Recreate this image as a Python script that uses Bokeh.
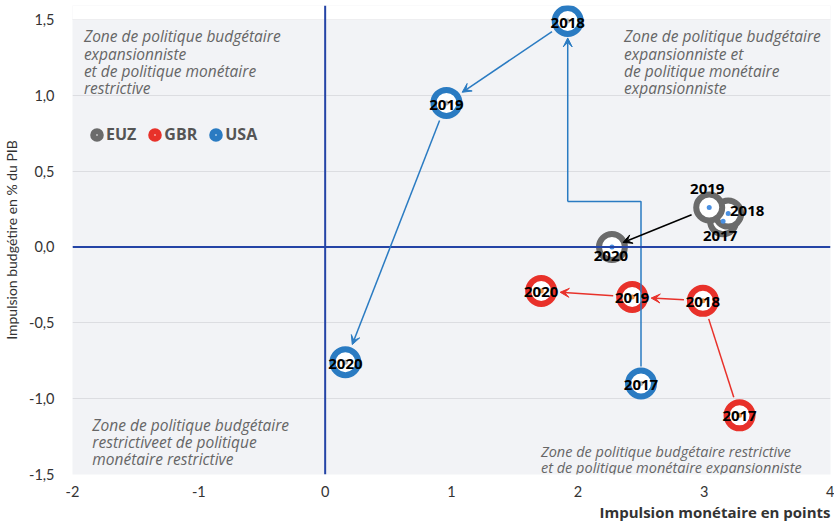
import math
from bokeh.plotting import figure
from bokeh.models import (Range1d, FixedTicker, CustomJSTickFormatter, Span, Label, Title,
                          Arrow, VeeHead, ColumnDataSource, Legend, LegendItem, BoxAnnotation)
from bokeh.embed import file_html
from bokeh.resources import INLINE
from bokeh.core.properties import value

# ---------------- data ----------------
years = ["2017", "2018", "2019", "2020"]
usa_x = [2.50, 1.92, 0.96, 0.16]
usa_y = [-0.90, 1.49, 0.95, -0.76]
gbr_x = [3.28, 2.99, 2.43, 1.71]
gbr_y = [-1.11, -0.355, -0.33, -0.29]
euz_x = [3.15, 3.19, 3.04, 2.27]
euz_y = [0.17, 0.22, 0.26, 0.00]
usa_elbow_y = 0.30          # level of the step in the USA 2017 -> 2018 path

x_ticks = [-2, -1, 0, 1, 2, 3, 4]
y_ticks = [-1.5, -1.0, -0.5, 0.0, 0.5, 1.0, 1.5]

zone_tl = ["Zone de politique budgétaire", "expansionniste",
           "et de politique monétaire", "restrictive"]
zone_tr = ["Zone de politique budgétaire", "expansionniste et",
           "de politique monétaire", "expansionniste"]
zone_bl = ["Zone de politique budgétaire", "restrictiveet de politique",
           "monétaire restrictive"]
zone_br = ["Zone de politique budgétaire restrictive",
           "et de politique monétaire expansionniste"]

x_title = "Impulsion monétaire en points"
y_title = "Impulsion budgétire en % du PIB"

# ---------------- styles ----------------
C_USA, C_GBR, C_EUZ = "#2a7bc2", "#e8312a", "#6b6b6b"
D_USA, D_GBR, D_EUZ = "#b5b5b5", "#f28f43", "#4a90e2"
AXIS0 = "#2444a6"

W, H = 834, 521
EXTRA_TOP = 14                      # px of headroom so the top ring is not clipped
BL, BR, BT, BB = 72, 4, 19 - EXTRA_TOP, 46
X0, X1, Y0, Y1 = -2, 4, -1.5, 1.5
PX_X = (W - BL - BR) / (X1 - X0)
PX_Y = (H - 19 - BB) / (Y1 - Y0)
Y1_EXT = Y1 + EXTRA_TOP / PX_Y

p = figure(width=W, height=H, x_range=Range1d(X0, X1), y_range=Range1d(Y0, Y1_EXT),
           output_backend="svg", toolbar_location=None,
           min_border_left=BL, min_border_right=BR, min_border_top=BT, min_border_bottom=BB)
p.background_fill_color = "#f2f3f6"
p.border_fill_color = "white"
p.outline_line_color = None

# white band above the 1.5 line (the plot area ends at 1.5)
p.add_layout(BoxAnnotation(bottom=Y1, fill_color="white", fill_alpha=1.0,
                           line_color=None, level="underlay"))

p.xgrid.visible = False
p.ygrid.grid_line_color = "#dcdde1"
p.ygrid.ticker = FixedTicker(ticks=y_ticks)

p.xaxis.ticker = FixedTicker(ticks=x_ticks)
p.yaxis.ticker = FixedTicker(ticks=y_ticks)
p.yaxis.formatter = CustomJSTickFormatter(code="return tick.toFixed(1).replace('.', ',');")
p.xaxis.formatter = CustomJSTickFormatter(code="return tick.toFixed(0);")
for ax in (p.xaxis, p.yaxis):
    ax.axis_line_color = None
    ax.major_tick_line_color = None
    ax.minor_tick_line_color = None
    ax.major_label_text_font = "Lato"
    ax.major_label_text_font_size = "14.5px"
    ax.major_label_text_color = "#333333"
p.xaxis.major_label_standoff = 5
p.yaxis.major_label_standoff = 12
p.yaxis.axis_label = y_title
p.yaxis.axis_label_text_font = "Lato"
p.yaxis.axis_label_text_font_size = "14px"
p.yaxis.axis_label_text_font_style = "normal"
p.yaxis.axis_label_text_color = "#333333"
p.yaxis.axis_label_standoff = 6

p.add_layout(Span(location=0, dimension="width", line_color=AXIS0, line_width=2))
p.add_layout(Span(location=0, dimension="height", line_color=AXIS0, line_width=2))

# x axis title, right aligned under the axis
p.add_layout(Title(text=x_title, align="right", text_font="Open Sans", text_font_size="15px",
                   text_font_style="bold", text_color="#333333", standoff=0), "below")

# zone texts
def zone(lines, x, y, size, lh, fix):
    for i, t in enumerate(lines):
        p.add_layout(Label(x=x, y=y, x_offset=-2, y_offset=fix - lh * i, text=t,
                           text_font="Open Sans", text_font_size=size, text_font_style="italic",
                           text_color="#666666", text_baseline="alphabetic",
                           text_align="left"))

zone(zone_tl, -1.894, 1.3355, "15.5px", 17.2, 8)
zone(zone_tr, 2.382, 1.3355, "15.5px", 17.2, 8)
zone(zone_bl, -1.827, -1.215, "15.5px", 17, 6)
zone(zone_br, 1.724, -1.38, "14.5px", 16.7, 5)

# ---------------- arrows ----------------
def shorten(x0, y0, x1, y1, r0, r1):
    dx = (x1 - x0) * PX_X
    dy = (y1 - y0) * PX_Y
    L = math.hypot(dx, dy)
    if L <= r0 + r1:
        return None
    ux, uy = dx / L, dy / L
    return (x0 + ux * r0 / PX_X, y0 + uy * r0 / PX_Y,
            x1 - ux * r1 / PX_X, y1 - uy * r1 / PX_Y)

def arrow(seg, color, head=True):
    if seg is None:
        return
    xs, ys, xe, ye = seg
    src = ColumnDataSource(dict(xs=[xs], ys=[ys], xe=[xe], ye=[ye]))
    end = VeeHead(size=9, line_color=color, fill_color=color, line_width=1) if head else None
    p.add_layout(Arrow(end=end, x_start="xs", y_start="ys", x_end="xe", y_end="ye",
                       source=src, line_color=color, line_width=1.5))

R = 19
# rings first
ring_kw = dict(size=26, line_width=6, fill_color="white", marker="circle")
r_euz = p.scatter(euz_x, euz_y, line_color=C_EUZ, **ring_kw)
r_gbr = p.scatter(gbr_x, gbr_y, line_color=C_GBR, **ring_kw)
r_usa = p.scatter(usa_x, usa_y, line_color=C_USA, **ring_kw)

# GBR path
arrow(shorten(gbr_x[0], gbr_y[0], gbr_x[1], gbr_y[1], R, R), C_GBR, head=False)
arrow(shorten(gbr_x[1], gbr_y[1], gbr_x[2], gbr_y[2], R, R), C_GBR)
arrow(shorten(gbr_x[2], gbr_y[2], gbr_x[3], gbr_y[3], R, R), C_GBR)
# EUZ path
arrow(shorten(euz_x[2], euz_y[2], euz_x[3], euz_y[3], R, 12), "black")
# USA path
p.line([usa_x[0], usa_x[0], usa_x[1], usa_x[1]],
       [usa_y[0] + 17 / PX_Y, usa_elbow_y, usa_elbow_y, usa_elbow_y],
       line_color=C_USA, line_width=1.5)
arrow((usa_x[1], usa_elbow_y, usa_x[1], usa_y[1] - 17 / PX_Y), C_USA)
arrow(shorten(usa_x[1], usa_y[1], usa_x[2], usa_y[2], R, R), C_USA)
arrow(shorten(usa_x[2], usa_y[2], usa_x[3], usa_y[3], R, R), C_USA)

# centre dots
p.scatter(euz_x, euz_y, size=5, fill_color=D_EUZ, line_color=None)
p.scatter(gbr_x, gbr_y, size=5, fill_color=D_GBR, line_color=None)
p.scatter(usa_x, usa_y, size=5, fill_color=D_USA, line_color=None)

# year labels
lab_kw = dict(text_font=value("Open Sans"), text_font_style="bold", text_font_size="15px",
              text_align="center", text_baseline="middle", text_color="black")
p.text(usa_x, usa_y, text=years, x_offset=[0, 0, 0, 0], y_offset=[2, 2, 2, 2], **lab_kw)
p.text(gbr_x, gbr_y, text=years, x_offset=[0, 0, 0, 0], y_offset=[1, 1, 1, 1], **lab_kw)
p.text(euz_x, euz_y, text=years, x_offset=[-3, 19, -2, -1], y_offset=[15, -3, -19, 9], **lab_kw)

# legend (uses the ring renderers: small size -> filled disc with a tiny white centre)
items = [LegendItem(label="EUZ", renderers=[r_euz]),
         LegendItem(label="GBR", renderers=[r_gbr]),
         LegendItem(label="USA", renderers=[r_usa])]
leg = Legend(items=items, orientation="horizontal", location=(15, 329),
             glyph_width=19, glyph_height=19, label_standoff=-4, spacing=9,
             padding=0, margin=0, border_line_alpha=0, background_fill_alpha=0,
             label_text_font="Open Sans", label_text_font_size="16px",
             label_text_font_style="bold", label_text_color="#555555")
p.add_layout(leg)

open("out.html", "w").write(file_html(p, INLINE))
